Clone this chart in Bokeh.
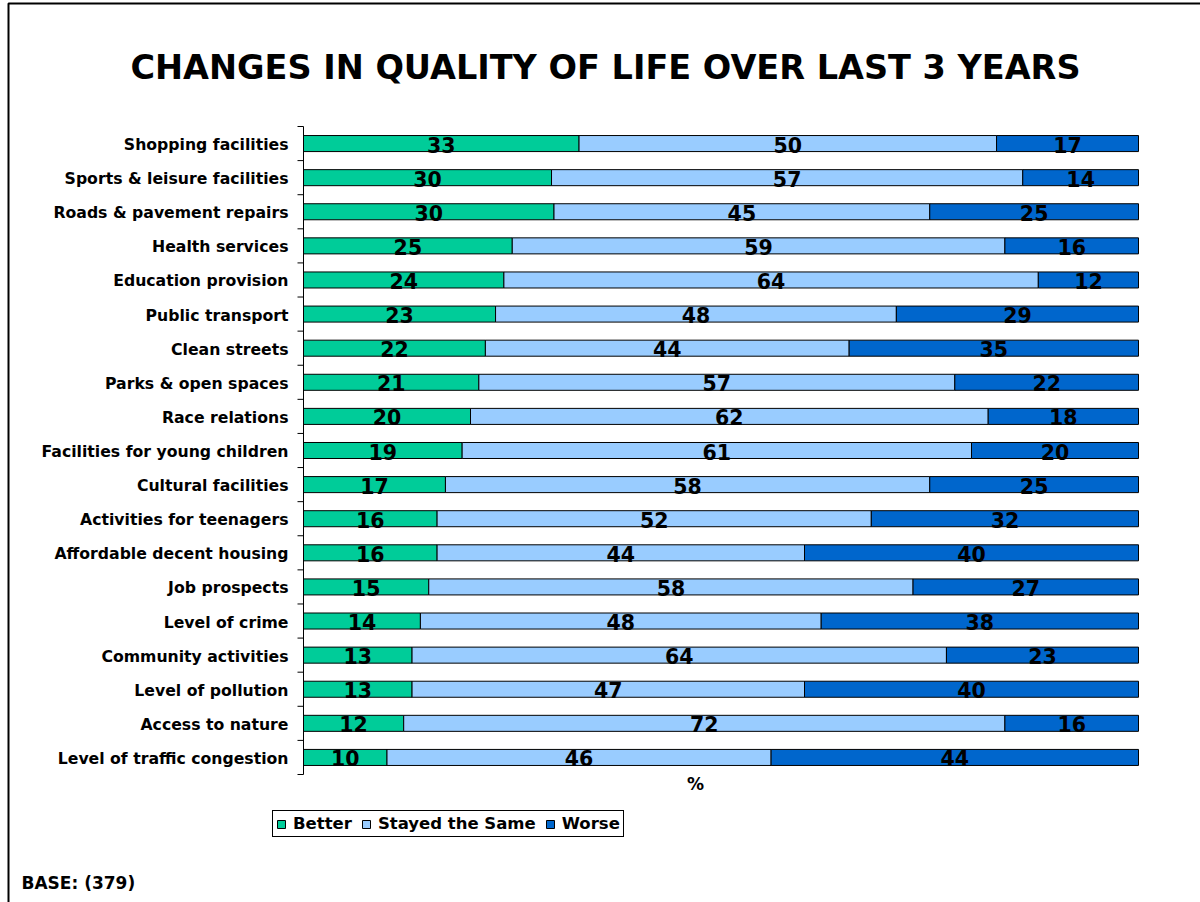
from bokeh.plotting import figure
from bokeh.models import (Range1d, Label, Legend, LegendItem, BoxAnnotation, ColumnDataSource)
from bokeh.core.properties import value
from bokeh.embed import file_html
from bokeh.resources import INLINE

categories = ["Shopping facilities", "Sports & leisure facilities", "Roads & pavement repairs",
              "Health services", "Education provision", "Public transport", "Clean streets",
              "Parks & open spaces", "Race relations", "Facilities for young children",
              "Cultural facilities", "Activities for teenagers", "Affordable decent housing",
              "Job prospects", "Level of crime", "Community activities", "Level of pollution",
              "Access to nature", "Level of traffic congestion"]
better = [33, 30, 30, 25, 24, 23, 22, 21, 20, 19, 17, 16, 16, 15, 14, 13, 13, 12, 10]
same = [50, 57, 45, 59, 64, 48, 44, 57, 62, 61, 58, 52, 44, 58, 48, 64, 47, 72, 46]
worse = [17, 14, 25, 16, 12, 29, 35, 22, 18, 20, 25, 32, 40, 27, 38, 23, 40, 16, 44]
series_names = ["Better", "Stayed the Same", "Worse"]
colors = ["#00CC99", "#99CCFF", "#0066CC"]
title_text = "CHANGES IN QUALITY OF LIFE OVER LAST 3 YEARS"
base_text = "BASE: (379)"
x_label = "%"

FONT = "DejaVu Sans"
W, H = 1200, 902
# pixel geometry of the bar area (plot region inside the canvas)
PX0, PX1, PTOP, PBOT = 303, 1138, 126, 774
n = len(categories)
sx = (PX1 - PX0) / 100.0
sy = (PBOT - PTOP) / n


def X(px):
    return (px - PX0) / sx


def Y(py):
    return (PBOT - py) / sy


p = figure(width=W, height=H, output_backend="svg", toolbar_location=None,
           x_range=Range1d(X(0), X(W)), y_range=Range1d(Y(H), Y(0)),
           x_axis_location=None, y_axis_location=None, min_border=0)
p.grid.visible = False
p.outline_line_color = None
p.background_fill_color = "white"
p.border_fill_color = "white"

ypos = [n - i - 0.5 for i in range(n)]

# normalised stacking (100% stacked)
totals = [b + s + w for b, s, w in zip(better, same, worse)]
vals = [better, same, worse]
starts = [0.0] * n
renderers = []
label_srcs = []
for k in range(3):
    left = starts[:]
    right = [l + v / t * 100 for l, v, t in zip(left, vals[k], totals)]
    src = ColumnDataSource(dict(y=ypos, left=left, right=right,
                                mid=[(a + b) / 2 for a, b in zip(left, right)],
                                lab=[str(v) for v in vals[k]]))
    r = p.hbar(y="y", left="left", right="right", height=0.47, source=src,
               fill_color=colors[k], line_color="black", line_width=1)
    renderers.append(r)
    label_srcs.append(src)
    starts = right

for src in label_srcs:
    p.text(x="mid", y="y", text="lab", source=src, text_font=value(FONT),
           text_font_style="bold", text_font_size="20.5px", text_color="black",
           text_align="center", text_baseline="middle", y_offset=1)

# category axis: line, boundary ticks and labels
p.segment(x0=[0], y0=[0], x1=[0], y1=[n], line_color="black", line_width=1)
bounds = list(range(n + 1))
p.segment(x0=[X(PX0 - 6)] * len(bounds), y0=bounds, x1=[0] * len(bounds), y1=bounds,
          line_color="black", line_width=1)
p.text(x=[X(288)] * n, y=ypos, text=categories, text_font=value(FONT),
       text_font_style="bold", text_font_size="15.7px", text_color="black",
       text_align="right", text_baseline="middle", y_offset=1)

legend = Legend(items=[LegendItem(label=nm, renderers=[r]) for nm, r in zip(series_names, renderers)],
                orientation="horizontal", location=(272, H - 837),
                border_line_color="black", border_line_width=1, border_line_alpha=1,
                label_text_font=FONT, label_text_font_style="bold", label_text_font_size="16.5px",
                label_text_color="black",
                glyph_width=10, glyph_height=10, label_standoff=7, spacing=9,
                padding=3, margin=0, label_height=16)
p.add_layout(legend, "center")

p.add_layout(Label(x=X(605), y=Y(67), text=title_text, text_color="black",
                   text_font=FONT, text_font_style="bold", text_font_size="33.5px",
                   text_align="center", text_baseline="middle"))
p.add_layout(Label(x=X(695), y=Y(783), text=x_label, text_color="black",
                   text_font=FONT, text_font_style="bold", text_font_size="17px",
                   text_align="center", text_baseline="middle"))
p.add_layout(Label(x=X(21), y=Y(882), text=base_text, text_color="black",
                   text_font=FONT, text_font_style="bold", text_font_size="17px",
                   text_align="left", text_baseline="middle"))

# page frame (left and top edges)
p.add_layout(BoxAnnotation(left=X(8), right=X(W + 20), top=Y(3), bottom=Y(H + 20),
                           fill_alpha=0, line_color="black", line_alpha=1, line_width=2))

open("out.html", "w").write(file_html(p, INLINE))
